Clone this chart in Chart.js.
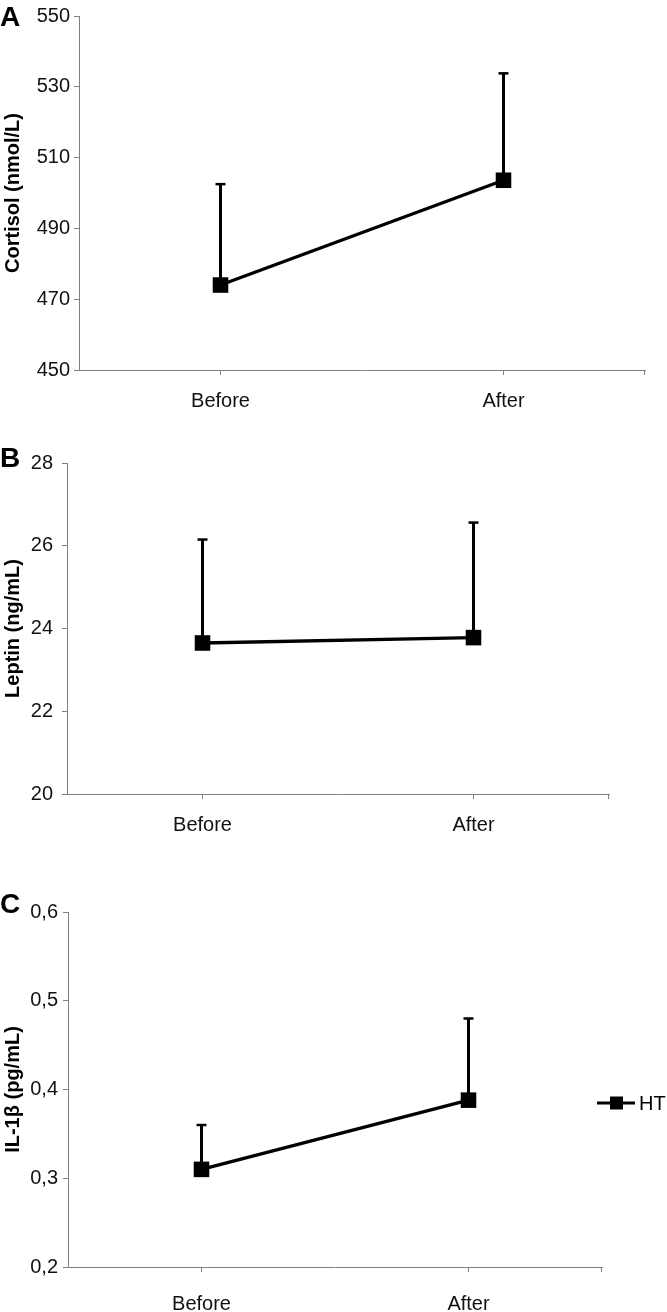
<!DOCTYPE html>
<html>
<head>
<meta charset="utf-8">
<script src="https://cdn.jsdelivr.net/npm/chart.js@4.4.1/dist/chart.umd.min.js"></script>
<style>
  body { margin: 0; background: #fff; }
  #wrap { position: relative; width: 667px; height: 1312px; overflow: hidden; }
  .panel { position: absolute; left: 0; width: 667px; }
</style>
</head>
<body>
<div id="wrap">
  <div class="panel" style="top:0px"><canvas id="chartA" width="667" height="420"></canvas></div>
  <div class="panel" style="top:440px"><canvas id="chartB" width="667" height="404"></canvas></div>
  <div class="panel" style="top:880px"><canvas id="chartC" width="667" height="432"></canvas></div>
</div>
<script>
// data (mean and upper SD)
const categories = ['Before', 'After'];

const cortisolMean = [474, 503.6];
const cortisolErr = [28.5, 30.2];
const cortisolTicks = [450, 470, 490, 510, 530, 550];

const leptinMean = [23.65, 23.78];
const leptinErr = [2.5, 2.78];
const leptinTicks = [20, 22, 24, 26, 28];

const il1bMean = [0.31, 0.388];
const il1bErr = [0.05, 0.092];
const il1bTicks = [0.2, 0.3, 0.4, 0.5, 0.6];
const il1bTickLabels = ['0,2', '0,3', '0,4', '0,5', '0,6'];

const FONT = "'Liberation Sans', Arial, Helvetica, sans-serif";
const AXIS_GRAY = '#808080';

// upward-only error bars, drawn under the line and markers
const errorBars = {
  id: 'errorBars',
  beforeDatasetsDraw(chart, args, opts) {
    const ctx = chart.ctx;
    const y = chart.scales.y;
    chart.data.datasets.forEach((ds, i) => {
      const meta = chart.getDatasetMeta(i);
      meta.data.forEach((pt, j) => {
        const top = y.getPixelForValue(ds.data[j] + ds.errUp[j]);
        ctx.save();
        ctx.strokeStyle = '#000';
        ctx.lineWidth = 3;
        ctx.beginPath();
        ctx.moveTo(pt.x, pt.y);
        ctx.lineTo(pt.x, top);
        ctx.stroke();
        ctx.lineWidth = 2.5;
        ctx.beginPath();
        ctx.moveTo(pt.x - 5, top);
        ctx.lineTo(pt.x + 5, top);
        ctx.stroke();
        ctx.restore();
      });
    });
  }
};

// panel letter, right-end x tick, and the little HT legend
const extras = {
  id: 'extras',
  afterDraw(chart, args, opts) {
    const ctx = chart.ctx;
    const area = chart.chartArea;
    ctx.save();
    // closing tick at the right end of the x axis
    ctx.strokeStyle = AXIS_GRAY;
    ctx.lineWidth = 1;
    ctx.beginPath();
    ctx.moveTo(Math.round(area.right) - 0.5, area.bottom);
    ctx.lineTo(Math.round(area.right) - 0.5, area.bottom + 5);
    ctx.stroke();
    // letter
    ctx.fillStyle = '#000';
    ctx.font = 'bold 28px ' + FONT;
    ctx.textBaseline = 'alphabetic';
    ctx.fillText(opts.letter, opts.letterX, opts.letterY);
    // legend
    if (opts.legend) {
      const ly = Math.round(chart.scales.y.getPixelForValue(opts.legendAt));
      const lx = area.right - 5;
      ctx.strokeStyle = '#000';
      ctx.lineWidth = 3;
      ctx.beginPath();
      ctx.moveTo(lx, ly);
      ctx.lineTo(lx + 38, ly);
      ctx.stroke();
      ctx.fillRect(lx + 13, ly - 6.5, 13, 13);
      ctx.font = '20px ' + FONT;
      ctx.textBaseline = 'middle';
      ctx.fillText(chart.data.datasets[0].label, lx + 42, ly + 1);
    }
    ctx.restore();
  }
};

function makePanel(id, p) {
  return new Chart(document.getElementById(id), {
    type: 'line',
    data: {
      labels: categories,
      datasets: [{
        label: 'HT',
        data: p.mean,
        errUp: p.err,
        borderColor: '#000',
        borderWidth: 3.3,
        tension: 0,
        pointStyle: 'rect',
        pointRadius: 11,
        pointHoverRadius: 11,
        pointBackgroundColor: '#000',
        pointBorderColor: '#000',
        pointBorderWidth: 0,
        clip: false
      }]
    },
    options: {
      responsive: false,
      animation: false,
      events: [],
      layout: { padding: { top: p.padTop, right: p.padRight, left: 0, bottom: 0 } },
      plugins: {
        legend: { display: false },
        tooltip: { enabled: false },
        extras: { letter: p.letter, letterX: p.letterX, letterY: p.letterY, legend: p.legend, legendAt: p.legendAt }
      },
      scales: {
        x: {
          type: 'category',
          offset: true,
          afterFit(s) { s.height = p.xHeight; },
          grid: { drawOnChartArea: false, drawTicks: true, tickLength: 5, color: AXIS_GRAY, offset: false },
          border: { display: true, color: AXIS_GRAY, width: 1 },
          ticks: { color: '#111', font: { family: FONT, size: 20 }, padding: p.xLabelPad, maxRotation: 0 }
        },
        y: {
          min: p.ticks[0],
          max: p.ticks[p.ticks.length - 1],
          afterFit(s) { s.width = p.yWidth; },
          afterBuildTicks(s) { s.ticks = p.ticks.map(v => ({ value: v })); },
          grid: { drawOnChartArea: false, drawTicks: true, tickLength: 5, color: AXIS_GRAY },
          border: { display: true, color: AXIS_GRAY, width: 1 },
          ticks: {
            color: '#111',
            font: { family: FONT, size: 20 },
            padding: p.yLabelPad,
            callback: (v, i) => p.tickLabels ? p.tickLabels[i] : String(v)
          },
          title: {
            display: true,
            text: p.title,
            color: '#000',
            font: { family: FONT, size: 20, weight: 'bold' },
            padding: { top: 1, bottom: 0 }
          }
        }
      }
    },
    plugins: [errorBars, extras]
  });
}

makePanel('chartA', {
  mean: cortisolMean, err: cortisolErr, ticks: cortisolTicks,
  title: 'Cortisol (nmol/L)', letter: 'A', letterX: 0, letterY: 26,
  padTop: 10, padRight: 22, yWidth: 79, xHeight: 50, xLabelPad: 14, yLabelPad: 4
});

makePanel('chartB', {
  mean: leptinMean, err: leptinErr, ticks: leptinTicks,
  title: 'Leptin (ng/mL)', letter: 'B', letterX: 0, letterY: 27,
  padTop: 23, padRight: 58, yWidth: 67, xHeight: 50, xLabelPad: 14, yLabelPad: 9
});

makePanel('chartC', {
  mean: il1bMean, err: il1bErr, ticks: il1bTicks, tickLabels: il1bTickLabels,
  title: 'IL-1β (pg/mL)', letter: 'C', letterX: 0, letterY: 33,
  padTop: 32, padRight: 65, yWidth: 68, xHeight: 45, xLabelPad: 20, yLabelPad: 5,
  legend: true, legendAt: 0.385
});
</script>
</body>
</html>
